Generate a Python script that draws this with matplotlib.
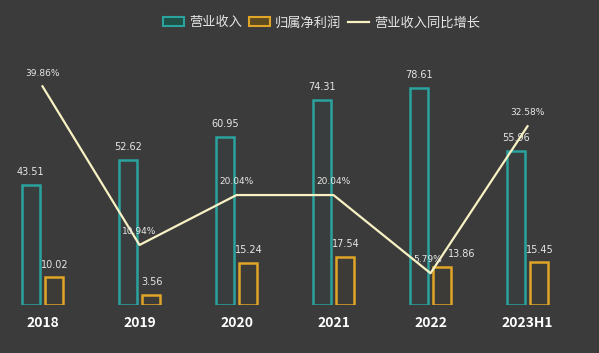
import numpy as np
import matplotlib.pyplot as plt
from matplotlib.patches import Patch
from matplotlib.lines import Line2D

plt.rcParams['font.family'] = ['Noto Sans CJK SC', 'DejaVu Sans']

years = ["2018", "2019", "2020", "2021", "2022", "2023H1"]
revenue = [43.51, 52.62, 60.95, 74.31, 78.61, 55.96]
profit = [10.02, 3.56, 15.24, 17.54, 13.86, 15.45]
growth = [39.86, 10.94, 20.04, 20.04, 5.79, 32.58]
growth_labels = ["39.86%", "10.94%", "20.04%", "20.04%", "5.79%", "32.58%"]

bg = "#3b3b3b"
teal = "#2aa39f"
gold = "#e0a526"
line_c = "#f7f1c4"
txt = "#e6e6e6"

fig = plt.figure(figsize=(5.99, 3.53), dpi=100, facecolor=bg)
ax = fig.add_axes([0, 48 / 353, 1, 265 / 353])
ax.set_facecolor(bg)
ax2 = ax.twinx()

x = np.arange(len(years))
w = 0.19
off = 0.12

ax.bar(x - off, revenue, w, facecolor="#3a3d3d", edgecolor=teal, linewidth=1.8)
ax.bar(x + off, profit, w, facecolor="#3d3b38", edgecolor=gold, linewidth=1.8)
for i in range(len(years)):
    ax.text(x[i] - off, revenue[i] + 2.8, f"{revenue[i]:.2f}", ha="center", va="bottom",
            fontsize=7, color=txt, family="DejaVu Sans")
    # 2022 profit label sits a little right of its bar, clear of the % label
    dx = 0.2 if i == 4 else 0.01
    ax.text(x[i] + off + dx, profit[i] + 2.8, f"{profit[i]:.2f}", ha="center", va="bottom",
            fontsize=7, color=txt, family="DejaVu Sans")

ax2.plot(x, growth, color=line_c, linewidth=1.6)
for i in range(len(years)):
    dx = -0.03 if i == 4 else 0.0
    ax2.text(x[i] + dx, growth[i] + 1.6, growth_labels[i], ha="center", va="bottom",
             fontsize=6.5, color=txt, family="DejaVu Sans")

ax.set_xlim(-42.5 / 97, (599 - 42.5) / 97)
ax.set_ylim(0, 96)
ax2.set_ylim(0, 48.3)

ax.set_xticks(x)
ax.set_xticklabels(years, fontsize=10, color="white", fontweight="bold")
ax.tick_params(axis="x", length=0, pad=8)
ax.set_yticks([])
ax2.set_yticks([])
for a in (ax, ax2):
    for s in a.spines.values():
        s.set_visible(False)

handles = [
    Patch(facecolor="#1f4f45", edgecolor=teal, linewidth=1.5),
    Patch(facecolor="#5e4b22", edgecolor=gold, linewidth=1.5),
    Line2D([0], [0], color=line_c, linewidth=1.6),
]
fig.legend(handles, ["营业收入", "归属净利润", "营业收入同比增长"],
           loc="center", bbox_to_anchor=(0.537, 0.935), ncol=3, frameon=False,
           fontsize=9.5, labelcolor=txt, handlelength=1.6, handleheight=0.7,
           handletextpad=0.4, columnspacing=0.5)

fig.savefig("out.png", dpi=100, facecolor=bg)
